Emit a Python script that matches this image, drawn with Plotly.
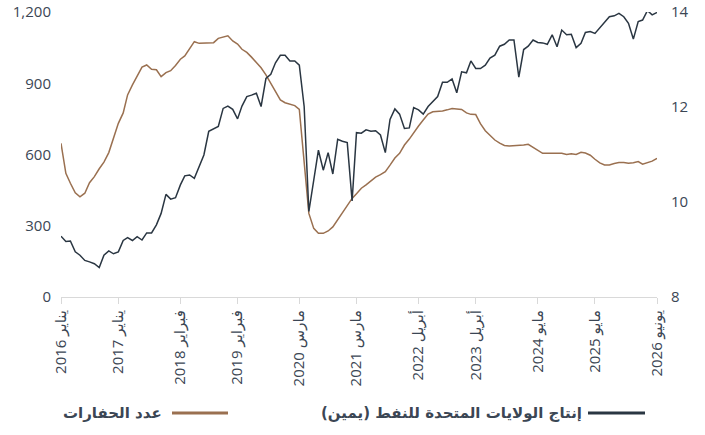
import pandas as pd
import plotly.graph_objects as go

dates = pd.date_range("2016-01-01", periods=126, freq="MS")

oil_production = [
    9.28, 9.17, 9.18, 8.95, 8.88, 8.77, 8.74, 8.70, 8.62, 8.88,
    8.97, 8.91, 8.95, 9.19, 9.25, 9.19, 9.27, 9.20, 9.35, 9.35,
    9.52, 9.76, 10.16, 10.06, 10.09, 10.36, 10.55, 10.57, 10.50, 10.73,
    10.99, 11.49, 11.55, 11.59, 11.97, 12.02, 11.95, 11.75, 12.02, 12.22,
    12.25, 12.29, 12.01, 12.60, 12.69, 12.93, 13.09, 13.09, 12.97, 12.97,
    12.88, 12.01, 9.80, 10.46, 11.09, 10.67, 11.04, 10.59, 11.32, 11.28,
    11.25, 10.02, 11.46, 11.45, 11.52, 11.49, 11.50, 11.41, 11.04, 11.74,
    11.96, 11.85, 11.55, 11.56, 11.99, 11.94, 11.85, 12.01, 12.11, 12.22,
    12.52, 12.52, 12.59, 12.30, 12.74, 12.72, 12.97, 12.81, 12.81, 12.88,
    13.03, 13.09, 13.28, 13.32, 13.41, 13.41, 12.63, 13.21, 13.28, 13.41,
    13.36, 13.35, 13.32, 13.52, 13.27, 13.62, 13.52, 13.53, 13.25, 13.34,
    13.57, 13.59, 13.55, 13.67, 13.78, 13.90, 13.92, 13.97, 13.90, 13.76,
    13.43, 13.80, 13.83, 14.03, 13.94, 13.99,
]

rig_count = [
    647, 521, 479, 439, 422, 437, 481, 507, 540, 568,
    608, 670, 731, 775, 851, 893, 930, 968, 977, 959,
    957, 928, 945, 953, 975, 1001, 1015, 1045, 1075, 1068,
    1068, 1068, 1071, 1089, 1095, 1100, 1078, 1065, 1043, 1030,
    1010, 985, 965, 935, 900, 860, 830, 818, 812, 806,
    790, 549, 352, 289, 268, 268, 278, 295, 325, 352,
    385, 415, 435, 458, 472, 490, 505, 515, 528, 555,
    585, 605, 640, 665, 692, 720, 745, 770, 780, 781,
    783, 788, 794, 792, 790, 775, 769, 768, 730, 700,
    680, 661, 648, 638, 636, 637, 637, 640, 643, 630,
    615, 605, 605, 605, 605, 605, 600, 603, 600, 609,
    606, 597, 580, 565, 556, 556, 562, 566, 566, 563,
    565, 570, 559, 565, 572, 584,
]

tick_dates = ["2016-01-01", "2017-01-01", "2018-02-01", "2019-02-01", "2020-03-01",
              "2021-03-01", "2022-04-01", "2023-04-01", "2024-05-01", "2025-05-01",
              "2026-06-01"]
tick_labels = ["يناير 2016", "يناير 2017", "فبراير 2018", "فبراير 2019", "مارس 2020",
               "مارس 2021", "أبريل 2022", "أبريل 2023", "مايو 2024", "مايو 2025",
               "يونيو 2026"]

name_oil = "إنتاج الولايات المتحدة للنفط (يمين)"
name_rigs = "عدد الحفارات"

COL_OIL = "#2a3642"
COL_RIG = "#9a7050"
TXT = "#3b4654"
FONT = "Open Sans, DejaVu Sans, sans-serif"

fig = go.Figure()
fig.add_trace(go.Scatter(x=dates, y=rig_count, name=name_rigs, mode="lines",
                         line=dict(color=COL_RIG, width=1.5), yaxis="y"))
fig.add_trace(go.Scatter(x=dates, y=oil_production, name=name_oil, mode="lines",
                         line=dict(color=COL_OIL, width=1.5), yaxis="y2"))

fig.update_layout(
    width=705, height=435,
    margin=dict(l=61, r=48, t=12, b=138),
    paper_bgcolor="white", plot_bgcolor="white",
    showlegend=False,
    font=dict(family=FONT, size=15, color=TXT),
    xaxis=dict(
        type="date", automargin=False,
        range=[tick_dates[0], tick_dates[-1]],
        tickvals=tick_dates, ticktext=tick_labels,
        tickangle=-90,
        showgrid=False, zeroline=False,
        showline=True, linecolor="#d9d9d9", linewidth=1,
        ticks="outside", ticklen=6, tickcolor="#d9d9d9",
        tickfont=dict(family=FONT, size=15, color=TXT),
    ),
    yaxis=dict(
        automargin=False,
        range=[0, 1200], tickvals=[0, 300, 600, 900, 1200],
        tickformat=",", showgrid=False, zeroline=False, showline=False,
        ticks="outside", ticklen=6, tickcolor="rgba(0,0,0,0)",
        tickfont=dict(family=FONT, size=15, color=TXT),
    ),
    yaxis2=dict(
        automargin=False,
        range=[8, 14], tickvals=[8, 10, 12, 14],
        overlaying="y", side="right",
        showgrid=False, zeroline=False, showline=False,
        ticks="outside", ticklen=10, tickcolor="rgba(0,0,0,0)",
        tickfont=dict(family=FONT, size=15, color=TXT),
    ),
)

# RTL-style legend (symbol to the right of the text), drawn with shapes + annotations
leg_y = -116 / 285  # paper coords relative to plot area height
pw = 596.0
def px(x):
    return (x - 61) / pw

legend_items = [
    (name_oil, COL_OIL, 588, 645, 584),
    (name_rigs, COL_RIG, 172, 228, 164),
]
for text, col, x0, x1, xt in legend_items:
    fig.add_shape(type="line", xref="paper", yref="paper",
                  x0=px(x0), x1=px(x1), y0=leg_y, y1=leg_y,
                  line=dict(color=col, width=3))
    fig.add_annotation(xref="paper", yref="paper", x=px(xt), y=leg_y,
                       text="<b>" + text + "</b>", showarrow=False,
                       xanchor="right", yanchor="middle",
                       font=dict(family="DejaVu Sans, sans-serif", size=15, color=TXT))

fig.write_html("out.html", config={"displayModeBar": False},
               post_script="document.body.style.margin='0';")
